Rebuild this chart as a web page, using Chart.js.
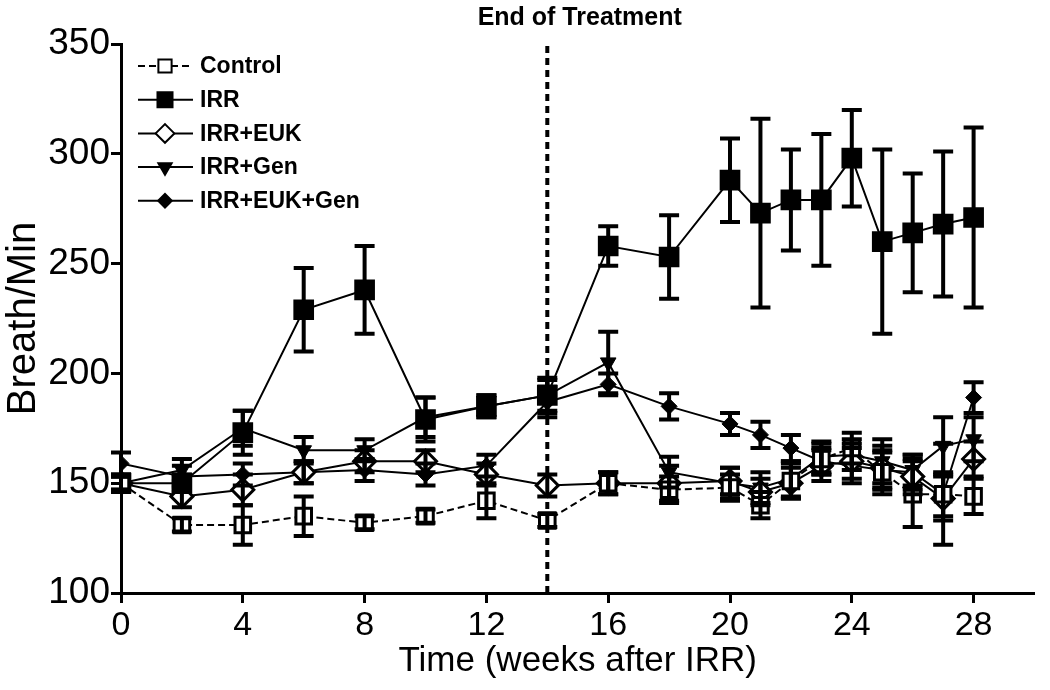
<!DOCTYPE html>
<html>
<head>
<meta charset="utf-8">
<script src="https://cdn.jsdelivr.net/npm/chart.js@4.4.0/dist/chart.umd.min.js"></script>
<style>
  html, body { margin: 0; padding: 0; background: #fff; }
</style>
</head>
<body>
<canvas id="chart" width="1050" height="690"></canvas>
<script>
// weeks after IRR
const weeks = [0, 2, 4, 6, 8, 10, 12, 14, 16, 18, 20, 21, 22, 23, 24, 25, 26, 27, 28];

const control      = [150, 131, 131, 135, 132, 135, 142, 133, 150, 147, 148, 140, 151, 161, 166, 155, 145, 145, 144];
const controlErr   = [3, 3, 9, 9, 3, 3, 8, 3, 5, 6, 6, 6, 8, 7, 7, 10, 15, 23, 8];
const irr          = [150, 150, 173, 229, 238, 179, 185, 190, 258, 253, 288, 273, 279, 279, 298, 260, 264, 268, 271];
const irrErr       = [4, 4, 10, 19, 20, 10, 5, 7, 9, 19, 19, 43, 23, 30, 22, 42, 27, 33, 41];
const irrEuk       = [150, 144, 147, 155, 160, 160, 154, 149, 150, 150, 151, 146, 150, 158, 160, 157, 153, 143, 161];
const irrEukErr    = [3, 5, 7, 5, 5, 5, 5, 5, 5, 8, 6, 6, 7, 7, 8, 10, 8, 10, 8];
const irrGen       = [150, 156, 175, 165, 165, 180, 185, 190, 205, 155, 150, 148, 152, 162, 163, 160, 156, 167, 170];
const irrGenErr    = [3, 5, 8, 6, 5, 9, 5, 8, 14, 7, 7, 7, 8, 7, 7, 10, 7, 13, 10];
const irrEukGen    = [159, 153, 154, 155, 156, 154, 158, 187, 195, 185, 177, 172, 166, 160, 158, 156, 155, 145, 189];
const irrEukGenErr = [5, 5, 5, 5, 5, 5, 5, 7, 5, 6, 5, 6, 6, 6, 8, 8, 8, 10, 7];

const xTicks = [0, 4, 8, 12, 16, 20, 24, 28];
const yTicks = [100, 150, 200, 250, 300, 350];
const treatmentEnd = 14;

const FONT = "'Liberation Sans', Arial, sans-serif";

function series(label, values, errs, style) {
  return Object.assign({
    label: label,
    data: weeks.map((w, i) => ({ x: w, y: values[i] })),
    errors: errs,
    borderColor: '#000',
    borderWidth: 2,
    pointBorderColor: '#000',
    pointBorderWidth: 3,
    pointHoverRadius: 0,
    fill: false,
    tension: 0
  }, style);
}

const datasets = [
  series('Control', control, controlErr, { borderDash: [7, 4], pointStyle: 'rect', pointRadius: 11, pointBackgroundColor: '#fff' }),
  series('IRR', irr, irrErr, { pointStyle: 'rect', pointRadius: 12.5, pointBackgroundColor: '#000' }),
  series('IRR+EUK', irrEuk, irrEukErr, { pointStyle: 'rectRot', pointRadius: 11, pointBackgroundColor: '#fff' }),
  series('IRR+Gen', irrGen, irrGenErr, { pointStyle: 'triangle', pointRotation: 180, pointRadius: 9, pointBackgroundColor: '#000', pointBorderWidth: 1 }),
  series('IRR+EUK+Gen', irrEukGen, irrEukGenErr, { pointStyle: 'rectRot', pointRadius: 8, pointBackgroundColor: '#000', pointBorderWidth: 1 })
];

// error bars drawn through the y scale
const errorBars = {
  id: 'errorBars',
  afterDatasetsDraw(chart) {
    const ctx = chart.ctx;
    const yScale = chart.scales.y;
    ctx.save();
    ctx.strokeStyle = '#000';
    ctx.lineWidth = 4;
    ctx.lineCap = 'butt';
    chart.data.datasets.forEach((ds, di) => {
      const meta = chart.getDatasetMeta(di);
      meta.data.forEach((pt, i) => {
        const v = ds.data[i].y, e = ds.errors[i];
        const top = yScale.getPixelForValue(v + e);
        const bot = yScale.getPixelForValue(v - e);
        ctx.beginPath();
        ctx.moveTo(pt.x, top); ctx.lineTo(pt.x, bot);
        ctx.moveTo(pt.x - 10, top); ctx.lineTo(pt.x + 10, top);
        ctx.moveTo(pt.x - 10, bot); ctx.lineTo(pt.x + 10, bot);
        ctx.stroke();
      });
    });
    ctx.restore();
  }
};

// dotted line at end of treatment + heading
const treatmentLine = {
  id: 'treatmentLine',
  beforeDatasetsDraw(chart) {
    const ctx = chart.ctx;
    const x = chart.scales.x.getPixelForValue(treatmentEnd);
    const area = chart.chartArea;
    ctx.save();
    ctx.strokeStyle = '#000';
    ctx.lineWidth = 4;
    ctx.setLineDash([7, 5]);
    ctx.beginPath();
    ctx.moveTo(x, area.top + 2);
    ctx.lineTo(x, area.bottom);
    ctx.stroke();
    ctx.restore();
  },
  afterDraw(chart) {
    const ctx = chart.ctx;
    const area = chart.chartArea;
    ctx.save();
    ctx.fillStyle = '#000';
    ctx.font = 'bold 25px ' + FONT;
    ctx.textAlign = 'center';
    ctx.textBaseline = 'middle';
    ctx.fillText('End of Treatment', (area.left + area.right) / 2 + 2, 18);
    ctx.restore();
  }
};

// legend with line + marker samples
const lineLegend = {
  id: 'lineLegend',
  afterDraw(chart) {
    const ctx = chart.ctx;
    ctx.save();
    chart.data.datasets.forEach((ds, i) => {
      const y = 66 + i * 33.7;
      ctx.strokeStyle = '#000';
      ctx.lineWidth = 2;
      ctx.setLineDash(ds.borderDash || []);
      ctx.beginPath();
      ctx.moveTo(138, y); ctx.lineTo(193, y);
      ctx.stroke();
      ctx.setLineDash([]);
      ctx.fillStyle = ds.pointBackgroundColor;
      ctx.strokeStyle = '#000';
      Chart.helpers.drawPoint(ctx, {
        pointStyle: ds.pointStyle,
        radius: ds.pointRadius * 0.85,
        rotation: ds.pointRotation || 0,
        borderWidth: ds.pointBorderWidth
      }, 165, y);
      ctx.fillStyle = '#000';
      ctx.font = 'bold 23px ' + FONT;
      ctx.textAlign = 'left';
      ctx.textBaseline = 'middle';
      ctx.fillText(ds.label, 200, y + 1);
    });
    ctx.restore();
  }
};

new Chart(document.getElementById('chart'), {
  type: 'line',
  data: { datasets: datasets },
  options: {
    responsive: false,
    animation: false,
    layout: { padding: { top: 44, right: 8, left: 0, bottom: 0 } },
    plugins: {
      legend: { display: false },
      tooltip: { enabled: false }
    },
    scales: {
      x: {
        type: 'linear',
        min: 0,
        max: 30,
        afterBuildTicks: (scale) => { scale.ticks = xTicks.map(v => ({ value: v })); },
        afterFit: (scale) => { scale.height = 97; },
        border: { color: '#000', width: 3 },
        grid: { drawOnChartArea: false, drawTicks: true, tickLength: 10, tickWidth: 3, tickColor: '#000' },
        ticks: { color: '#000', font: { family: FONT, size: 34 }, padding: 2, maxRotation: 0 },
        title: { display: true, text: 'Time (weeks after IRR)', color: '#000', font: { family: FONT, size: 35 }, padding: { top: 0, bottom: 8 } }
      },
      y: {
        min: 100,
        max: 350,
        afterBuildTicks: (scale) => { scale.ticks = yTicks.map(v => ({ value: v })); },
        afterFit: (scale) => { scale.width = 121; },
        border: { color: '#000', width: 3 },
        grid: { drawOnChartArea: false, drawTicks: true, tickLength: 10, tickWidth: 3, tickColor: '#000' },
        ticks: { color: '#000', font: { family: FONT, size: 37 }, padding: 1 },
        title: { display: true, text: 'Breath/Min', color: '#000', font: { family: FONT, size: 40 }, padding: { top: 0, bottom: 0 } }
      }
    }
  },
  plugins: [treatmentLine, errorBars, lineLegend]
});
</script>
</body>
</html>
